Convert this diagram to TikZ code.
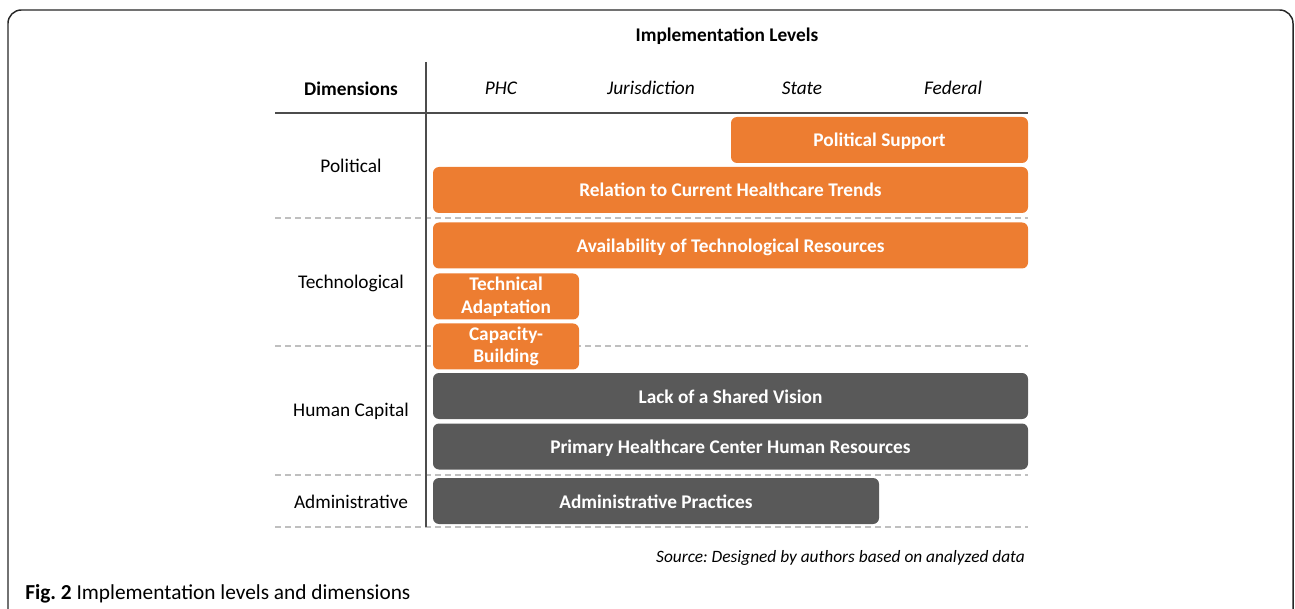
\documentclass[tikz,border=0pt]{standalone}
\usepackage{fontspec}
\setmainfont{Carlito}
\usepackage{tikz}
\usepackage{xcolor}
\frenchspacing

\definecolor{barorange}{RGB}{237,125,49}
\definecolor{bargray}{RGB}{89,89,89}
\definecolor{gridgray}{RGB}{191,191,191}

\begin{document}
\begin{tikzpicture}[x=0.75pt,y=-0.75pt,
  txt/.style={font=\fontsize{14.5}{17}\selectfont,yshift=-1pt},
  lvl/.style={font=\fontsize{14.5}{17}\selectfont\itshape,yshift=-1pt},
  hdr/.style={font=\fontsize{14.5}{17}\selectfont\bfseries,yshift=-1pt},
  bar/.style={rounded corners=4.5pt,minimum height=34.5pt,inner sep=0pt,text=white,align=center,font=\fontsize{14.5}{17}\selectfont\bfseries},
  orbar/.style={bar,fill=barorange},
  grbar/.style={bar,fill=bargray},
  oneline/.style={text height=13.5pt,text depth=3pt},
  sep/.style={gridgray,line width=0.9pt,dash pattern=on 4.5pt off 3pt}]
  \useasboundingbox (0,0) rectangle (1295,609);
  % frame
  \draw[line width=1.1pt,black!85,rounded corners=10pt] (8,609) -- (8,10) -- (1293,10) -- (1293,609);

  \node[hdr] (title) at (727,35) {Implementation Levels};
  \node[hdr] (dim) at (351,87) {Dimensions};
  \node[lvl] (phc) at (501,87) {PHC};
  \node[lvl] (jur) at (651,87) {Jurisdiction};
  \node[lvl] (sta) at (802,87) {State};
  \node[lvl] (fed) at (953,87) {Federal};

  \draw[black!70,line width=0.8pt] (275,113) -- (1028,113);
  \foreach \y in {218,346,475,527}
    \draw[sep] (275,\y) -- (1028,\y);
  \draw[black!70,line width=0.9pt] (426,62) -- (426,527);

  \node[txt] (pol) at (351,165) {Political};
  \node[txt] (tec) at (351,282) {Technological};
  \node[txt] (hum) at (351,410) {Human Capital};
  \node[txt] (adm) at (351,501) {Administrative};

  \node[orbar,oneline,minimum width=222.75pt] (polsup) at (879.5,140) {Political Support};
  \node[orbar,oneline,minimum width=446.25pt] (trends) at (730.5,190) {Relation to Current Healthcare Trends};
  \node[orbar,oneline,minimum width=446.25pt] (avail) at (730.5,245.5) {Availability of Technological Resources};
  \node[orbar,minimum width=109.5pt] (adapt) at (506,296.5) {Technical\\Adaptation};
  \node[orbar,minimum width=109.5pt] (capac) at (506,346.5) {Capacity-\\Building};
  \node[grbar,oneline,minimum width=446.25pt] (vision) at (730.5,396) {Lack of a Shared Vision};
  \node[grbar,oneline,minimum width=446.25pt] (hr) at (730.5,446.5) {Primary Healthcare Center Human Resources};
  \node[grbar,oneline,minimum width=334.5pt] (pract) at (656,501) {Administrative Practices};

  \node[font=\fontsize{13}{15}\selectfont\itshape,anchor=east,inner sep=0pt] (src) at (1025,558) {Source: Designed by authors based on analyzed data};
  \node[font=\fontsize{16}{18}\selectfont,anchor=west,inner sep=0pt] (cap) at (25,594) {\textbf{Fig. 2} Implementation levels and dimensions};
\end{tikzpicture}
\end{document}
